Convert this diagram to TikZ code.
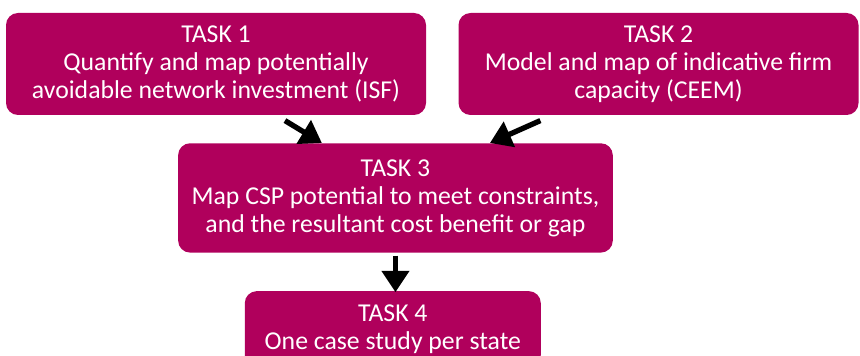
\documentclass[tikz,border=0pt]{standalone}
\usepackage{fontspec}
\setmainfont{Carlito}
\usepackage{xcolor}
\usetikzlibrary{arrows.meta,positioning,calc}
\definecolor{task}{HTML}{B0005C}
\tikzset{
  taskbox/.style={draw=none, fill=task, rounded corners=9pt, align=center,
                  text=white, inner sep=0pt,
                  font=\fontsize{19.3pt}{21pt}\selectfont},
  ar/.style={-{Triangle[length=16pt,width=20pt]}, line width=4pt, draw=black},
}
\begin{document}
\begin{tikzpicture}
\useasboundingbox (0,0) rectangle (645pt,-267pt);

% ---- TASK 1 ----
\node[taskbox, minimum width=315pt, minimum height=76.5pt] (t1) at (162pt,-48pt) {
  TASK 1\\
  Quantify and map potentially\\
  avoidable network investment (ISF)
};

% ---- TASK 2 ----
\node[taskbox, minimum width=300pt, minimum height=76.5pt, right=24pt of t1] (t2) {
  TASK 2\\
  Model and map of indicative firm\\
  capacity (CEEM)
};

% ---- TASK 3 ----
\node[taskbox, minimum width=326pt, minimum height=82pt, anchor=north] (t3) at (296.6pt,-107.25pt) {
  TASK 3\\
  Map CSP potential to meet constraints,\\
  and the resultant cost benefit or gap
};

% ---- TASK 4 ----
\node[taskbox, minimum width=222pt, minimum height=57pt, below=28.5pt of t3, xshift=-2pt] (t4) {
  TASK 4\\
  One case study per state
};

% ---- arrows ----
\draw[ar] ($(t1.south west)!0.664!(t1.south east)+(0,-4pt)$) -- ($(t3.north west)!0.331!(t3.north east)$);
\draw[ar] ($(t2.south west)!0.205!(t2.south east)+(0,-4pt)$) -- ($(t3.north west)!0.717!(t3.north east)$);
\draw[ar] ($(t3.south)+(0,-2pt)$) -- ($(t4.north)+(2pt,-1pt)$);

\end{tikzpicture}
\end{document}
